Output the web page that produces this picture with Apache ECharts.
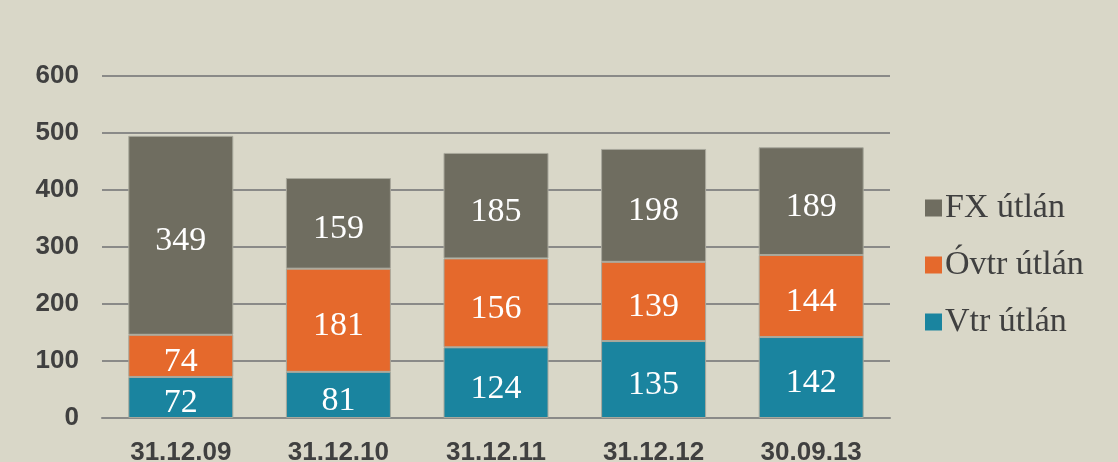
<!DOCTYPE html>
<html>
<head>
<meta charset="utf-8">
<script src="https://cdn.jsdelivr.net/npm/echarts@6/dist/echarts.min.js"></script>
<style>
  html, body { margin: 0; padding: 0; background: #d9d7c8; }
  #chart { width: 1118px; height: 462px; }
</style>
</head>
<body>
<div id="chart"></div>
<script>
// dátumok és értékek (Mrd Ft)
var categories = ['31.12.09', '31.12.10', '31.12.11', '31.12.12', '30.09.13'];
var vtr = [72, 81, 124, 135, 142];
var ovtr = [74, 181, 156, 139, 144];
var fx = [349, 159, 185, 198, 189];
var yTicks = [0, 100, 200, 300, 400, 500, 600];

var labelStyle = {
    show: true,
    position: 'inside',
    color: '#ffffff',
    fontFamily: 'Liberation Serif',
    fontSize: 34,
    offset: [0, 6]
};

function bar(name, data, color) {
    return {
        name: name,
        type: 'bar',
        stack: 'total',
        barWidth: 105,
        data: data,
        label: labelStyle,
        itemStyle: { color: color, borderColor: '#a9a89c', borderWidth: 1 },
        emphasis: { disabled: true }
    };
}

var option = {
    backgroundColor: '#d9d7c8',
    animation: false,
    grid: { left: 102, right: 228, top: 76, bottom: 44, outerBoundsMode: 'none', containLabel: false },
    legend: {
        orient: 'vertical',
        left: 920,
        top: 186,
        itemWidth: 17,
        itemHeight: 17,
        itemGap: 23,
        icon: 'rect',
        itemStyle: { borderWidth: 0 },
        data: ['FX útlán', 'Óvtr útlán', 'Vtr útlán'],
        textStyle: { fontFamily: 'Liberation Serif', fontSize: 34, lineHeight: 34, color: '#404040', padding: [0, 0, 0, -2] }
    },
    xAxis: {
        type: 'category',
        data: categories,
        axisLine: { lineStyle: { color: '#8a8a88', width: 2 } },
        axisTick: { show: false },
        axisLabel: {
            margin: 22,
            color: '#404040',
            fontFamily: 'Liberation Sans',
            fontWeight: 'bold',
            fontSize: 26
        }
    },
    yAxis: {
        type: 'value',
        min: yTicks[0],
        max: yTicks[yTicks.length - 1],
        interval: 100,
        axisLine: { show: false },
        axisTick: { show: false },
        splitLine: { lineStyle: { color: '#8a8a88', width: 2 } },
        axisLabel: {
            margin: 23,
            color: '#404040',
            fontFamily: 'Liberation Sans',
            fontWeight: 'bold',
            fontSize: 26,
            padding: [4, 0, 0, 0]
        }
    },
    series: [
        bar('Vtr útlán', vtr, '#1a849f'),
        bar('Óvtr útlán', ovtr, '#e5692c'),
        bar('FX útlán', fx, '#6f6d60')
    ]
};

echarts.init(document.getElementById('chart')).setOption(option);
</script>
</body>
</html>
